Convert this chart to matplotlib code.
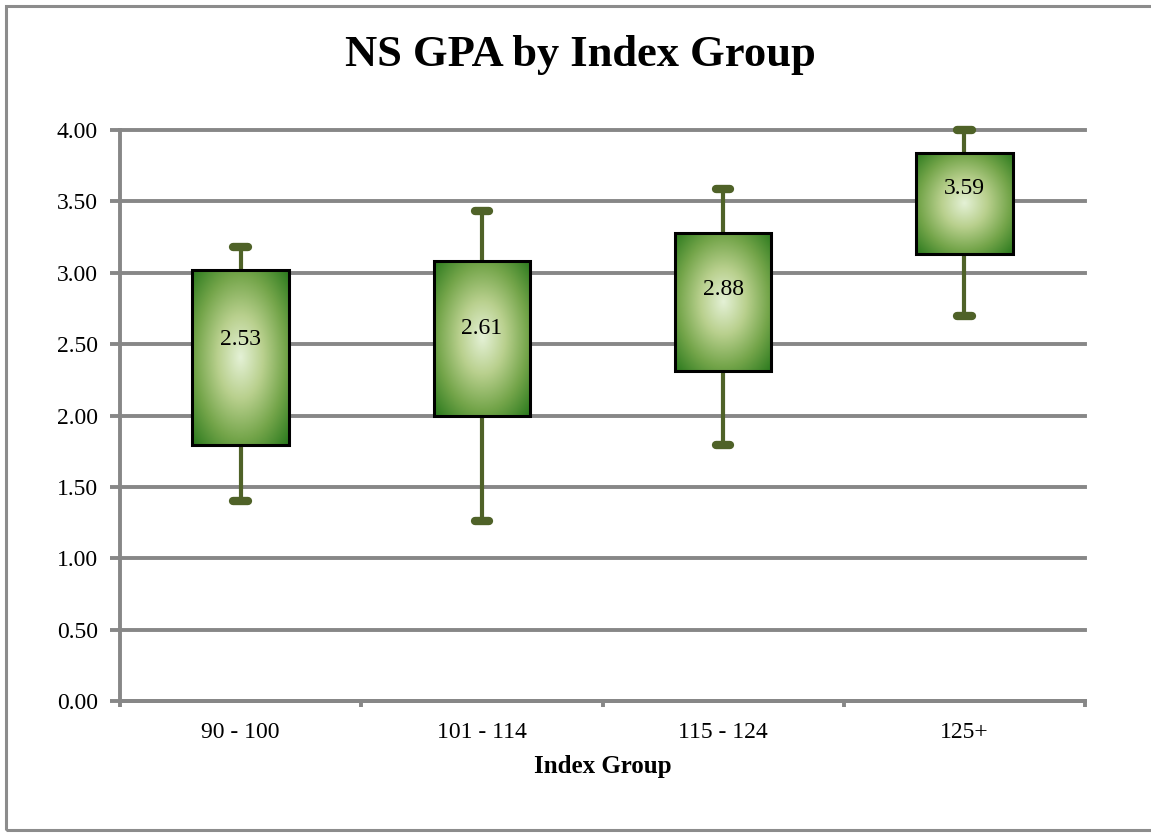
import numpy as np
import matplotlib.pyplot as plt
from matplotlib.colors import LinearSegmentedColormap
from matplotlib.patches import Rectangle

# NS GPA summary per index group
groups = ['90 - 100', '101 - 114', '115 - 124', '125+']
gpa_min = [1.40, 1.26, 1.79, 2.70]
gpa_q1 = [1.79, 2.00, 2.31, 3.13]
gpa_q3 = [3.02, 3.08, 3.28, 3.84]
gpa_max = [3.18, 3.43, 3.59, 4.00]
gpa_mean = [2.53, 2.61, 2.88, 3.59]
yticks = [0.0, 0.5, 1.0, 1.5, 2.0, 2.5, 3.0, 3.5, 4.0]

GRID = '#878787'
WHISKER = '#4f6228'
BOX_W = 0.40

plt.rcParams['font.family'] = ['Liberation Serif', 'DejaVu Serif']

fig = plt.figure(figsize=(11.51, 8.34), dpi=100)
ax = fig.add_axes([120 / 1151, 133 / 834, 965 / 1151, 571 / 834])

# radial "from center" fill for the boxes
cmap = LinearSegmentedColormap.from_list(
    'glow', ['#e4f1d6', '#b9d08e', '#74a54a', '#28781c'])
gx, gy = np.meshgrid(np.linspace(-1, 1, 200), np.linspace(-1, 1, 200))
glow = np.sqrt(gx ** 2 + gy ** 2) / np.sqrt(2)

for i, g in enumerate(groups):
    x = i + 1
    # whisker + caps
    ax.plot([x, x], [gpa_min[i], gpa_max[i]], color=WHISKER, lw=3,
            zorder=2, clip_on=False)
    for v in (gpa_min[i], gpa_max[i]):
        ax.plot([x - 0.03, x + 0.03], [v, v], color=WHISKER, lw=6,
                solid_capstyle='round', zorder=2, clip_on=False)
    x0, x1 = x - BOX_W / 2, x + BOX_W / 2
    ax.imshow(glow, cmap=cmap, extent=[x0, x1, gpa_q1[i], gpa_q3[i]],
              aspect='auto', interpolation='bilinear', zorder=3, vmin=0, vmax=1)
    ax.add_patch(Rectangle((x0, gpa_q1[i]), BOX_W, gpa_q3[i] - gpa_q1[i],
                           fc='none', ec='black', lw=2.2, zorder=4))
    ax.text(x, gpa_mean[i], '%.2f' % gpa_mean[i], ha='center', va='center',
            fontsize=17, color='black', zorder=5)

ax.set_xlim(0.5, len(groups) + 0.5)
ax.set_ylim(0, 4)
ax.set_yticks(yticks)
ax.set_yticklabels(['%.2f' % t for t in yticks], fontsize=17)
ax.set_xticks(range(1, len(groups) + 1))
ax.set_xticklabels(groups, fontsize=17)
ax.set_xticks(np.arange(0.5, len(groups) + 1), minor=True)
ax.tick_params(axis='x', which='major', length=0, pad=15)
ax.tick_params(axis='x', which='minor', length=4, width=2.8, color=GRID)
ax.tick_params(axis='y', length=7, width=2.8, color=GRID, pad=9)
ax.yaxis.grid(True, color=GRID, lw=2.8, zorder=0)
for gl in ax.get_ygridlines():
    gl.set_clip_on(False)
ax.set_axisbelow(True)
for s in ('top', 'right'):
    ax.spines[s].set_visible(False)
for s in ('left', 'bottom'):
    ax.spines[s].set_color(GRID)
    ax.spines[s].set_linewidth(2.8)

ax.set_xlabel('Index Group', fontsize=18, fontweight='bold', labelpad=9)
fig.text(580 / 1151, 1 - 55 / 834, 'NS GPA by Index Group', ha='center',
         va='center', fontsize=32, fontweight='bold')

# chart area frame
fig.patches.append(Rectangle((6 / 1151, 4 / 834), 1.2, 1 - 10 / 834,
                             transform=fig.transFigure, fc='none',
                             ec='#8c8c8c', lw=2.2))

fig.savefig('out.png', dpi=100, facecolor='white')
